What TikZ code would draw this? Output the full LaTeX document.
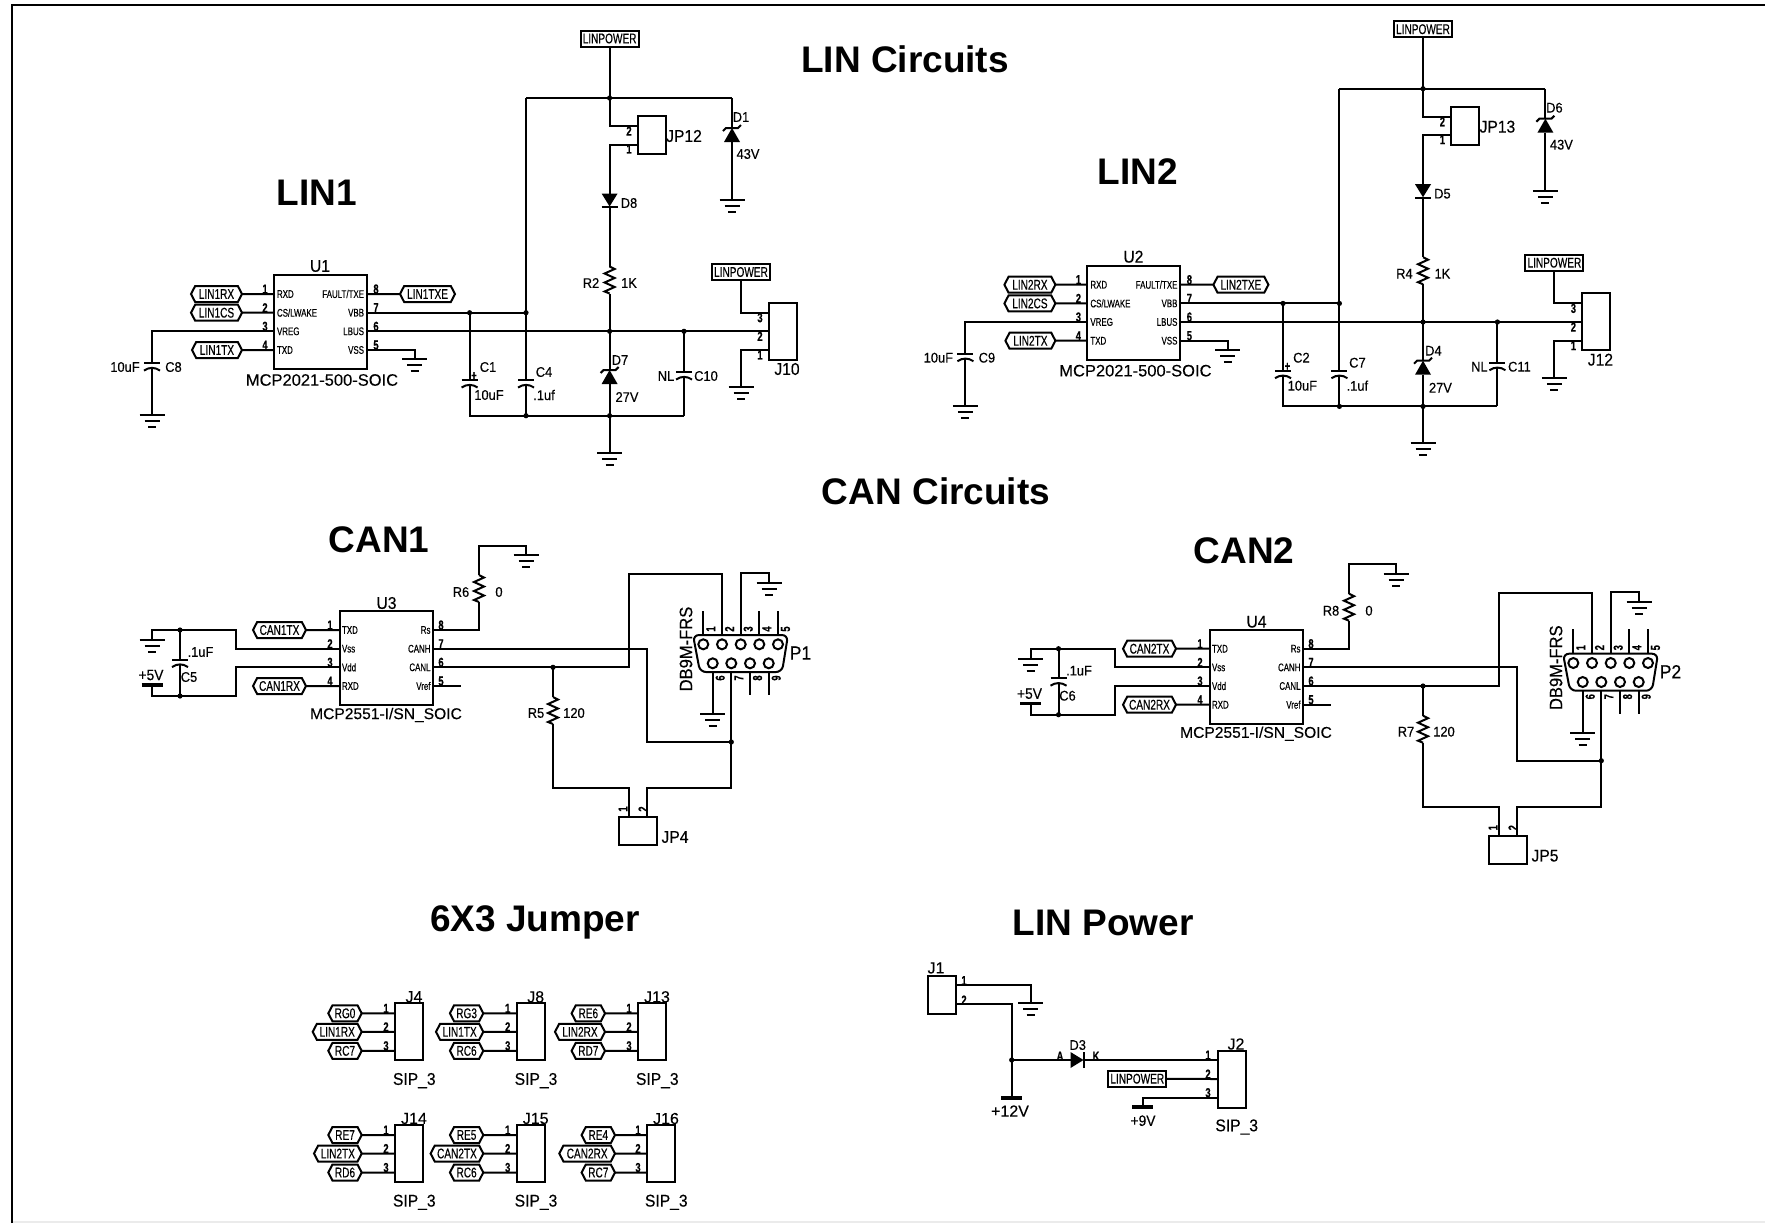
\documentclass[tikz,border=0pt]{standalone}
\usepackage{fontspec}
\setmainfont{Liberation Sans}
\newfontfamily\cadnarrow[FakeStretch=0.72,FakeBold=0.4]{Liberation Sans}
\newfontfamily\cadtext[FakeStretch=0.92,FakeBold=0.3]{Liberation Sans}
\newfontfamily\cadwide[FakeBold=0.2]{Liberation Sans}
\usetikzlibrary{shapes.symbols}

\begin{document}
\begin{tikzpicture}[
    x=0.5pt, y=-0.5pt, line width=1pt,
    title/.style={font=\bfseries\fontsize{18.5}{20}\selectfont, inner sep=0pt},
    biglab/.style={font=\cadtext\fontsize{8.5}{9}\selectfont, inner sep=0pt},
    val/.style={font=\cadtext\fontsize{7}{8}\selectfont, inner sep=0pt},
    partname/.style={font=\cadwide\fontsize{8}{9}\selectfont, inner sep=0pt},
    pinname/.style={font=\cadnarrow\fontsize{5.5}{6}\selectfont, inner sep=0pt},
    pinnum/.style={font=\cadnarrow\bfseries\fontsize{6.5}{7}\selectfont, inner sep=0pt},
    chip/.style={draw, minimum width=46.5pt, minimum height=47pt, inner sep=0pt, outer sep=0pt},
    sipbox/.style={draw, minimum width=14pt, minimum height=28.5pt, inner sep=0pt, outer sep=0pt},
    pwrbox/.style={draw, font=\cadnarrow\fontsize{7}{8}\selectfont, minimum width=29pt, minimum height=8pt, inner sep=0pt, outer sep=0pt},
    hexlab/.style={draw, signal, signal to=east and west, signal pointer angle=125,
        font=\cadnarrow\fontsize{7}{8}\selectfont, minimum height=8pt, inner xsep=0.5pt, inner ysep=0pt, outer sep=0pt},
    pinhole/.style={draw, circle, minimum size=5pt, inner sep=0pt},
    resv/.pic={
        \draw (0,-13.5) -- (5,-11) -- (-5,-6.5) -- (5,-2) -- (-5,2.5) -- (5,7) -- (-5,11.5) -- (0,13.5);
        \coordinate (-a) at (0,-13.5);
        \coordinate (-b) at (0,13.5);
    },
    capv/.pic={
        \draw (-8,-2.5) -- (8,-2.5);
        \draw (-8,5) .. controls (-3,1.5) and (3,1.5) .. (8,5);
        \coordinate (-a) at (0,-2.5);
        \coordinate (-b) at (0,2.5);
    },
    zener/.pic={
        \fill (-8,7) -- (8,7) -- (0,-7) -- cycle;
        \draw (-9,-4) -- (-6,-7) -- (6,-7) -- (9,-10);
        \coordinate (-a) at (0,-7);
        \coordinate (-b) at (0,7);
    },
    diode/.pic={
        \fill (-8,-7) -- (8,-7) -- (0,6) -- cycle;
        \draw (-8,6.5) -- (8,6.5);
        \coordinate (-a) at (0,-7);
        \coordinate (-b) at (0,6.5);
    },
    gnd/.pic={
        \draw (-12.5,0) -- (12.5,0);
        \draw (-7.5,6) -- (7.5,6);
        \draw (-4,12) -- (4,12);
        \coordinate (-t) at (0,0);
    },
    pwrbar/.pic={
        \draw[line width=1.6pt] (-10.5,0) -- (10.5,0);
        \coordinate (-t) at (0,0);
    }
]
    \useasboundingbox (0,0) rectangle (1765,1223);

    % --- Sheet Frame ---
    \draw[line width=1.25pt] (12,1223) -- (12,5) -- (1765,5);
    \draw[black!8, line width=1pt] (13,1221.5) -- (1765,1221.5);

    % --- Section Titles ---
    \node[title] (t-lin) at (905,59) {LIN Circuits};
    \node[title] (t-lin1) at (317,193) {LIN1};
    \node[title] (t-lin2) at (1138,172) {LIN2};
    \node[title] (t-can) at (936,491) {CAN Circuits};
    \node[title] (t-can1) at (379,540) {CAN1};
    \node[title] (t-can2) at (1244,551) {CAN2};
    \node[title] (t-sip) at (535,922) {6X3 Jumper};
    \node[title] (t-pow) at (1103,923) {LIN Power};

    % --- LIN Transceivers ---
    \foreach \dx/\dy/\ic/\rxn/\csn/\txn/\txe/\cvr/\ca/\cb/\cbus/\dtop/\dser/\dbus/\rr/\jp/\jn in {
        0/0/U1/LIN1RX/LIN1CS/LIN1TX/LIN1TXE/C8/C1/C4/C10/D1/D8/D7/R2/JP12/J10,
        813.4/-9.3/U2/LIN2RX/LIN2CS/LIN2TX/LIN2TXE/C9/C2/C7/C11/D6/D5/D4/R4/JP13/J12} {
    \begin{scope}[shift={(\dx,\dy)}]
        \node[chip] (\ic) at (320.5,322) {};
        \node[biglab] (\ic-l) at (320,266) {\ic};
        \node[partname, font=\cadwide\fontsize{8.25}{9}\selectfont] (\ic-d) at (322,380) {MCP2021-500-SOIC};

        % pins, left then right side
        \foreach \n/\y/\nm in {1/294/RXD, 2/312.7/{CS/LWAKE}, 3/331.3/VREG, 4/350/TXD} {
            \coordinate (\ic-\n) at (274,\y);
            \node[pinname, anchor=west] (\ic-m\n) at (276,\y) {\nm};
            \node[pinnum] (\ic-t\n) at (265,\y-5) {\n};
        }
        \foreach \n/\y/\nm in {8/294/{FAULT/TXE}, 7/312.7/VBB, 6/331.3/LBUS, 5/350/VSS} {
            \coordinate (\ic-\n) at (367,\y);
            \node[pinname, anchor=east] (\ic-m\n) at (365,\y) {\nm};
            \node[pinnum] (\ic-t\n) at (376,\y-5) {\n};
        }

        % net labels
        \node[hexlab, minimum width=25.5pt, anchor=east] (\rxn) at (242,294) {\rxn};
        \node[hexlab, minimum width=25.5pt, anchor=east] (\csn) at (242,312.7) {\csn};
        \node[hexlab, minimum width=25pt, anchor=east] (\txn) at (242,350) {\txn};
        \node[hexlab, minimum width=27.5pt, anchor=west] (\txe) at (400,294) {\txe};
        \node[pwrbox] (\jp-pow) at (609.6,38.5) {LINPOWER};
        \node[pwrbox] (\jn-pow) at (741,272) {LINPOWER};

        % connectors on the right
        \node[sipbox] (\jn) at (783,331) {};
        \node[biglab] (\jn-l) at (787,369) {\jn};
        \foreach \n/\y in {3/312.7, 2/331.3, 1/350} {
            \coordinate (\jn-\n) at (769,\y);
            \node[pinnum] (\jn-t\n) at (760,\y+5) {\n};
        }
        \node[sipbox, minimum height=19pt] (\jp) at (652,135) {};
        \node[biglab] (\jp-l) at (684,136) {\jp};
        \coordinate (\jp-2) at (638,126);
        \coordinate (\jp-1) at (638,144.7);
        \node[pinnum] (\jp-t2) at (629,131) {2};
        \node[pinnum] (\jp-t1) at (629,149) {1};

        % parts
        \pic (\dtop) at (732,135) {zener};
        \pic (\dser) at (609.6,200.5) {diode};
        \pic (\rr) at (609.6,280) {resv};
        \pic (\dbus) at (609.6,377) {zener};
        \pic (\cvr) at (152,365.5) {capv};
        \pic (\ca) at (469.6,382.5) {capv};
        \pic (\cb) at (526,382.5) {capv};
        \pic (\cbus) at (684,374.5) {capv};
        \pic (\ic-g1) at (152,415) {gnd};
        \pic (\ic-g2) at (414.5,359) {gnd};
        \pic (\ic-g3) at (609.6,452.7) {gnd};
        \pic (\ic-g4) at (741,387) {gnd};
        \pic (\ic-g5) at (732,200) {gnd};

        % part labels
        \node[val] (\dtop-l) at (741,117) {\dtop};
        \node[val] (\dtop-v) at (748,154) {43V};
        \node[val] (\dser-l) at (629,203) {\dser};
        \node[val] (\rr-l) at (591,283) {\rr};
        \node[val] (\rr-v) at (629,283) {1K};
        \node[val] (\dbus-l) at (620,360) {\dbus};
        \node[val] (\dbus-v) at (627,397) {27V};
        \node[val] (\cvr-v) at (125,367) {10uF};
        \node[val] (\cvr-l) at (173.5,367) {\cvr};
        \node[val] (\ca-l) at (488,367) {\ca};
        \node[val] (\ca-v) at (489,395) {10uF};
        \node[pinnum] (\ca-p) at (474,376) {+};
        \node[val] (\cb-l) at (544,372) {\cb};
        \node[val] (\cb-v) at (544,395) {.1uf};
        \node[val] (\cbus-v) at (666,376) {NL};
        \node[val] (\cbus-l) at (706,376) {\cbus};

        % junctions
        \coordinate (\ic-top) at (609.6,98);
        \coordinate (\ic-tl) at (526,98);
        \coordinate (\ic-tr) at (732,98);
        \coordinate (\ic-va) at (469.6,312.7);
        \coordinate (\ic-vb) at (526,312.7);
        \coordinate (\ic-ba) at (609.6,331.3);
        \coordinate (\ic-bb) at (684,331.3);
        \coordinate (\ic-la) at (526,415.7);
        \coordinate (\ic-lb) at (609.6,415.7);
        \coordinate (\ic-lc) at (684,415.7);

        % wiring
        \draw (\rxn) -- (\ic-1);
        \draw (\csn) -- (\ic-2);
        \draw (\txn) -- (\ic-4);
        \draw (\ic-8) -- (\txe);
        \draw (\ic-3) -| (\cvr-a);
        \draw (\cvr-b) -- (\ic-g1-t);
        \draw (\ic-5) -| (\ic-g2-t);
        \draw (\ic-7) -- (\ic-vb);
        \draw (\ic-6) -- (\jn-2);
        \draw (\jp-pow) -- (\ic-top);
        \draw (\ic-tl) -- (\ic-tr);
        \draw (\ic-top) |- (\jp-2);
        \draw (\jp-1) -| (\dser-a);
        \draw (\dser-b) -- (\rr-a);
        \draw (\rr-b) -- (\dbus-a);
        \draw (\dbus-b) -- (\ic-g3-t);
        \draw (\ic-tr) -- (\dtop-a);
        \draw (\dtop-b) -- (\ic-g5-t);
        \draw (\ic-tl) -- (\cb-a);
        \draw (\cb-b) -- (\ic-la);
        \draw (\ic-va) -- (\ca-a);
        \draw (\ca-b) |- (\ic-lc);
        \draw (\ic-lc) -- (\cbus-b);
        \draw (\cbus-a) -- (\ic-bb);
        \draw (\jn-3) -| (\jn-pow);
        \draw (\jn-1) -| (\ic-g4-t);
        \foreach \p in {top, va, vb, ba, bb, la, lb} {
            \fill (\ic-\p) circle (1.3pt);
        }
    \end{scope}
    }

    % --- CAN Transceivers ---
    \foreach \dx/\dy/\ls/\ic/\txn/\rxn/\cc/\rs/\rt/\jp/\pp in {
        0/0/0/U3/CAN1TX/CAN1RX/C5/R6/R5/JP4/P1,
        870/18.7/8.5/U4/CAN2TX/CAN2RX/C6/R8/R7/JP5/P2} {
    \begin{scope}[shift={(\dx,\dy)}]
        \node[chip] (\ic) at (386.3,658.3) {};
        \node[biglab] (\ic-l) at (386.5,603) {\ic};
        \node[partname, font=\cadwide\fontsize{7.8}{9}\selectfont] (\ic-d) at (386,715) {MCP2551-I/SN\_SOIC};

        % pins
        \foreach \n/\y/\nm in {1/630/TXD, 2/648.7/Vss, 3/667.3/Vdd, 4/686/RXD} {
            \coordinate (\ic-\n) at (339,\y);
            \node[pinname, anchor=west] (\ic-m\n) at (341,\y) {\nm};
            \node[pinnum] (\ic-t\n) at (330,\y-5) {\n};
        }
        \foreach \n/\y/\nm in {8/630/Rs, 7/648.7/CANH, 6/667.3/CANL, 5/686/Vref} {
            \coordinate (\ic-\n) at (433.6,\y);
            \node[pinname, anchor=east] (\ic-m\n) at (431.5,\y) {\nm};
            \node[pinnum] (\ic-t\n) at (441,\y-5) {\n};
        }
        \node[hexlab, minimum width=26.5pt, anchor=east] (\txn) at (306,630) {\txn};
        \node[hexlab, minimum width=26.5pt, anchor=east] (\rxn) at (306,686) {\rxn};
        \coordinate (\ic-v) at (461,686);

        % supply side
        \coordinate (\ic-a) at (236+\ls,630);
        \coordinate (\ic-b) at (236+\ls,696);
        \coordinate (\ic-ja) at (180+\ls,630);
        \coordinate (\ic-jb) at (180+\ls,696);
        \pic (\cc) at (180+\ls,662) {capv};
        \pic (\ic-g1) at (152+\ls,640) {gnd};
        \pic (\ic-pw) at (152+\ls,685) {pwrbar};
        \node[val, font=\cadtext\fontsize{7.5}{8}\selectfont] (\ic-pl) at (151+\ls,675) {+5V};
        \node[val] (\cc-v) at (200.5+\ls,652) {.1uF};
        \node[val] (\cc-l) at (189+\ls,677) {\cc};

        % termination and connector parts
        \pic (\rs) at (479,588.5) {resv};
        \pic (\rt) at (553,710.5) {resv};
        \pic (\ic-g2) at (526,555) {gnd};
        \pic (\ic-g3) at (769,583) {gnd};
        \pic (\ic-g4) at (712.7,714) {gnd};
        \node[val] (\rs-l) at (461,592) {\rs};
        \node[val] (\rs-v) at (499,592) {0};
        \node[val] (\rt-l) at (536,713) {\rt};
        \node[val] (\rt-v) at (574,713) {120};
        \coordinate (\ic-c) at (526,545.7);
        \coordinate (\ic-d1) at (647,648.7);
        \coordinate (\ic-e) at (629,667.3);
        \coordinate (\ic-jc) at (553,667.3);
        \coordinate (\ic-jd) at (731.3,742);
        \coordinate (\ic-f) at (731.3,788);
        \coordinate (\ic-h) at (629,788);
        \coordinate (\ic-k) at (722,574);
        \coordinate (\ic-m) at (740.7,573);
        \coordinate (\ic-q) at (769,573);

        % DB9 shell and pins
        \draw[rounded corners=3pt] (693,635) -- (788,635) -- (782,672) -- (700,672) -- cycle;
        \node[biglab, font=\cadtext\fontsize{9}{10}\selectfont, rotate=90] (\pp-n) at (686,649) {DB9M-FRS};
        \node[biglab, font=\cadtext\fontsize{9.5}{10}\selectfont] (\pp-l) at (800.5,653) {\pp};
        \foreach \n/\x in {1/703.3, 2/722, 3/740.7, 4/759.3, 5/778} {
            \coordinate (\pp-\n) at (\x,635);
            \coordinate (\pp-e\n) at (\x,610.7);
            \node[pinhole] (\pp-h\n) at (\x,644.3) {};
            \node[pinnum, rotate=90] (\pp-t\n) at (\x+7.5,629) {\n};
        }
        \foreach \n/\x in {6/712.7, 7/731.3, 8/750, 9/768.7} {
            \coordinate (\pp-\n) at (\x,672);
            \coordinate (\pp-e\n) at (\x,695);
            \node[pinhole] (\pp-h\n) at (\x,663.3) {};
            \node[pinnum, rotate=90] (\pp-t\n) at (\x+7.5,678) {\n};
        }
        \draw (\pp-1) -- (\pp-e1);
        \draw (\pp-4) -- (\pp-e4);
        \draw (\pp-5) -- (\pp-e5);
        \draw (\pp-8) -- (\pp-e8);
        \draw (\pp-9) -- (\pp-e9);

        % jumper below
        \node[sipbox, minimum width=19pt, minimum height=14pt] (\jp) at (638,831) {};
        \node[biglab] (\jp-l) at (675,837) {\jp};
        \coordinate (\jp-1) at (629,817);
        \coordinate (\jp-2) at (647,817);
        \node[pinnum, rotate=90] (\jp-t1) at (623,809) {1};
        \node[pinnum, rotate=90] (\jp-t2) at (643,809) {2};

        % wiring
        \draw (\txn) -- (\ic-1);
        \draw (\rxn) -- (\ic-4);
        \draw (\ic-5) -- (\ic-v);
        \draw (\ic-2) -| (\ic-a) -- (\ic-ja) -| (\ic-g1-t);
        \draw (\ic-3) -| (\ic-b) -- (\ic-jb) -| (\ic-pw-t);
        \draw (\ic-ja) -- (\cc-a);
        \draw (\cc-b) -- (\ic-jb);
        \draw (\ic-8) -| (\rs-b);
        \draw (\rs-a) |- (\ic-c) -- (\ic-g2-t);
        \draw (\ic-7) -- (\ic-d1) |- (\ic-jd);
        \draw (\ic-6) -- (\ic-e) |- (\ic-k) -- (\pp-2);
        \draw (\pp-3) -- (\ic-m) -- (\ic-q) -- (\ic-g3-t);
        \draw (\pp-6) -- (\ic-g4-t);
        \draw (\pp-7) -- (\ic-f) -| (\jp-2);
        \draw (\ic-jc) -- (\rt-a);
        \draw (\rt-b) |- (\ic-h) -- (\jp-1);
        \foreach \p in {ja, jb, jc, jd} {
            \fill (\ic-\p) circle (1.3pt);
        }
    \end{scope}
    }

    % --- 6X3 Jumper Blocks ---
    \foreach \jn/\bx/\by/\hx/\hw/\ta/\tb/\tc in {
        J4/395/1003.3/361.7/49/RG0/LIN1RX/RC7,
        J8/516.7/1003.3/483.3/47.3/RG3/LIN1TX/RC6,
        J13/638/1003.3/605/50/RE6/LIN2RX/RD7,
        J14/395/1125/361.7/47.7/RE7/LIN2TX/RD6,
        J15/516.7/1125/483.3/52.7/RE5/CAN2TX/RC6,
        J16/647/1125/615/55.7/RE4/CAN2RX/RC7} {
        \node[sipbox] (\jn) at (\bx+14.2,\by+28.4) {};
        \node[partname] (\jn-l) at (\bx+19,\by-6.5) {\jn};
        \node[biglab] (\jn-s) at (\bx+19.3,\by+77.3) {SIP\_3};
        \foreach \n/\o in {1/10, 2/28.5, 3/47.5} {
            \coordinate (\jn-\n) at (\bx,\by+\o);
            \node[pinnum] (\jn-t\n) at (\bx-9,\by+\o-5) {\n};
        }
        \node[hexlab, minimum width=16.7pt, anchor=east] (\jn-a) at (\hx,\by+10) {\ta};
        \node[hexlab, minimum width=\hw*0.5pt, anchor=east] (\jn-b) at (\hx,\by+28.5) {\tb};
        \node[hexlab, minimum width=16.7pt, anchor=east] (\jn-c) at (\hx,\by+47.5) {\tc};
        \draw (\jn-a) -- (\jn-1);
        \draw (\jn-b) -- (\jn-2);
        \draw (\jn-c) -- (\jn-3);
    }

    % --- LIN Power ---
    \node[sipbox, minimum height=19pt] (J1) at (942,994.5) {};
    \node[partname] (J1-l) at (936,968) {J1};
    \coordinate (J1-1) at (956,985);
    \coordinate (J1-2) at (956,1004);
    \node[pinnum] (J1-t1) at (964,980.5) {1};
    \node[pinnum] (J1-t2) at (964,1000) {2};
    \pic (J1-g) at (1030.7,1003.3) {gnd};
    \pic (J1-pw) at (1011.7,1098) {pwrbar};
    \node[partname] (J1-v) at (1010,1111) {+12V};
    \coordinate (J1-j) at (1011.7,1060);
    \pic[rotate=90] (D3) at (1077.5,1060) {diode};
    \node[val] (D3-l) at (1077.7,1045) {D3};
    \node[pinnum] (D3-A) at (1060,1056) {A};
    \node[pinnum] (D3-K) at (1096,1056) {K};

    \node[sipbox] (J2) at (1231.7,1079) {};
    \node[partname] (J2-l) at (1236,1044) {J2};
    \node[biglab] (J2-s) at (1236.7,1127) {SIP\_3};
    \foreach \n/\y in {1/1060, 2/1079, 3/1097.7} {
        \coordinate (J2-\n) at (1217.7,\y);
        \node[pinnum] (J2-t\n) at (1208,\y-5) {\n};
    }
    \node[pwrbox] (J2-pow) at (1137.3,1078.7) {LINPOWER};
    \pic (J2-pw) at (1142.7,1107) {pwrbar};
    \node[val, font=\cadtext\fontsize{7.5}{8}\selectfont] (J2-v) at (1143,1120.7) {+9V};

    \draw (J1-1) -| (J1-g-t);
    \draw (J1-2) -| (J1-j);
    \draw (J1-j) -- (J1-pw-t);
    \draw (J1-j) -- (D3-a);
    \draw (D3-b) -- (J2-1);
    \draw (J2-pow) -- (J2-2);
    \draw (J2-3) -| (J2-pw-t);
    \fill (J1-j) circle (1.3pt);

\end{tikzpicture}
\end{document}
